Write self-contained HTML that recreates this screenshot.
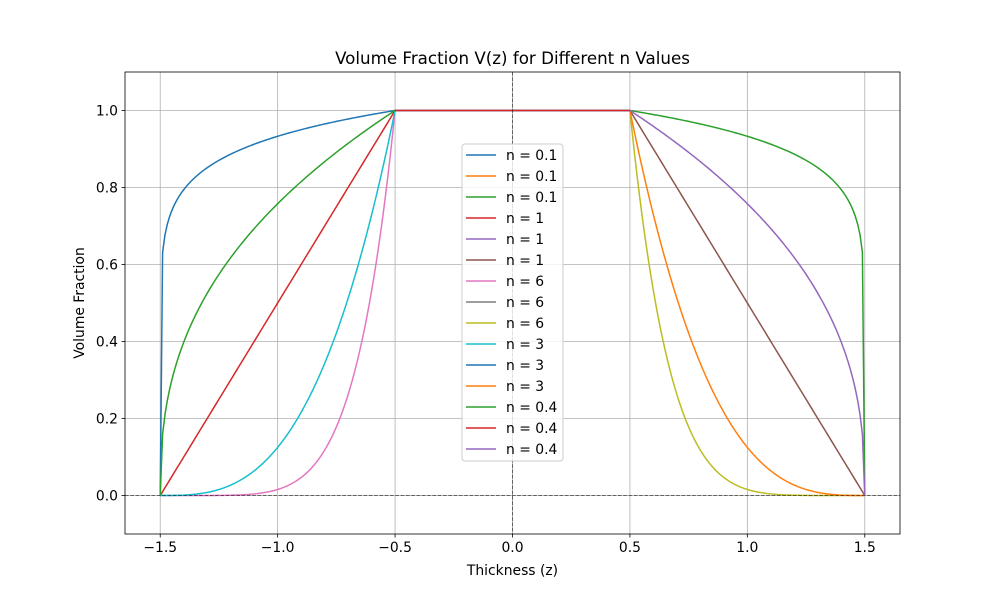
<!DOCTYPE html>
<html><head><meta charset="utf-8"><style>
body{margin:0;background:#fff}
svg{display:block;font-family:"DejaVu Sans","Liberation Sans",sans-serif}
</style></head><body>
<svg id="chart" width="1000" height="600" viewBox="0 0 1000 600"></svg>
<script>
const nValues=[0.1,1,6,3,0.4];
const colors=['#1f77b4','#ff7f0e','#2ca02c','#d62728','#9467bd','#8c564b','#e377c2','#7f7f7f','#bcbd22','#17becf'];
const xTicks=[-1.5,-1.0,-0.5,0.0,0.5,1.0,1.5];
const yTicks=[0.0,0.2,0.4,0.6,0.8,1.0];
const xMin=-1.65,xMax=1.65,yMin=-0.1,yMax=1.1;
const L=125,R=900,T=72,B=534;
const sx=v=>L+(v-xMin)/(xMax-xMin)*(R-L);
const sy=v=>B-(v-yMin)/(yMax-yMin)*(B-T);
const svg=document.getElementById('chart');
const NS='http://www.w3.org/2000/svg';
function mk(tag,attrs,parent){const e=document.createElementNS(NS,tag);for(const k in attrs)e.setAttribute(k,attrs[k]);(parent||svg).appendChild(e);return e;}
const fmt=v=>(v<0?'\u2212':'')+Math.abs(v).toFixed(1);
xTicks.forEach(t=>{const g=mk('line',{x1:sx(t),x2:sx(t),y1:T,y2:B,stroke:'#b0b0b0','stroke-width':0.8});


mk('line',{x1:sx(t),x2:sx(t),y1:B,y2:B+3.5,stroke:'#000','stroke-width':0.8});
const tx=mk('text',{x:sx(t),y:B+18,'text-anchor':'middle','font-size':'13.9px',fill:'#000'});tx.textContent=fmt(t);

});
yTicks.forEach(t=>{const g=mk('line',{x1:L,x2:R,y1:sy(t),y2:sy(t),stroke:'#b0b0b0','stroke-width':0.8});


mk('line',{x1:L-3.5,x2:L,y1:sy(t),y2:sy(t),stroke:'#000','stroke-width':0.8});
const tx=mk('text',{x:L-7,y:sy(t)+5,'text-anchor':'end','font-size':'13.9px',fill:'#000'});tx.textContent=fmt(t);

});
const clip=mk('clipPath',{id:'cp'});mk('rect',{x:L,y:T,width:R-L,height:B-T},clip);
const plot=mk('g',{'clip-path':'url(#cp)'});


const segs=[];
const NS_=99;
nValues.forEach(n=>{
 const bot=[],mid=[],top=[];
 for(let i=0;i<=NS_;i++){const z=-1.5+i/NS_;bot.push([z,Math.pow(Math.max(z+1.5,0),n)]);}
 for(let i=0;i<=10;i++){mid.push([-0.5+i/10,1]);}
 for(let i=0;i<=NS_;i++){const z=0.5+i/NS_;top.push([z,Math.pow(Math.max(1.5-z,0),n)]);}
 segs.push([n,bot,'bottom'],[n,mid,'middle'],[n,top,'top']);
});
segs.forEach((s,i)=>{const p=mk('polyline',{points:s[1].map(q=>sx(q[0]).toFixed(2)+','+sy(q[1]).toFixed(2)).join(' '),fill:'none',stroke:colors[i%10],'stroke-width':1.5,'stroke-linejoin':'round'},plot);

});
const h=mk('line',{x1:L,x2:R,y1:sy(0),y2:sy(0),stroke:'#000','stroke-width':0.5,'stroke-dasharray':'3.7,1.6'});


const v=mk('line',{x1:sx(0),x2:sx(0),y1:T,y2:B,stroke:'#000','stroke-width':0.5,'stroke-dasharray':'3.7,1.6'});


const fr=mk('rect',{x:L,y:T,width:R-L,height:B-T,fill:'none',stroke:'#000','stroke-width':0.8});


const lg=mk('g',{});


mk('rect',{x:462,y:144,width:101,height:317,rx:3,fill:'#fff','fill-opacity':0.8,stroke:'#ccc','stroke-width':1},lg);
segs.forEach((s,i)=>{const y=155+i*21;
 const e=mk('g',{},lg);
 
 
 mk('line',{x1:466,x2:496,y1:y,y2:y,stroke:colors[i%10],'stroke-width':1.5},e);
 const t=mk('text',{x:506,y:y+5,'font-size':'13.9px',fill:'#000'},e);t.textContent='n = '+s[0];});
const ti=mk('text',{x:512.5,y:64,'text-anchor':'middle','font-size':'16.7px',fill:'#000'});ti.textContent='Volume Fraction V(z) for Different n Values';


const xl=mk('text',{x:512.5,y:575,'text-anchor':'middle','font-size':'13.9px',fill:'#000'});xl.textContent='Thickness (z)';


const yl=mk('text',{x:0,y:0,'text-anchor':'middle','font-size':'13.9px',fill:'#000',transform:'translate(84,303) rotate(-90)'});yl.textContent='Volume Fraction';


</script>
</body></html>
